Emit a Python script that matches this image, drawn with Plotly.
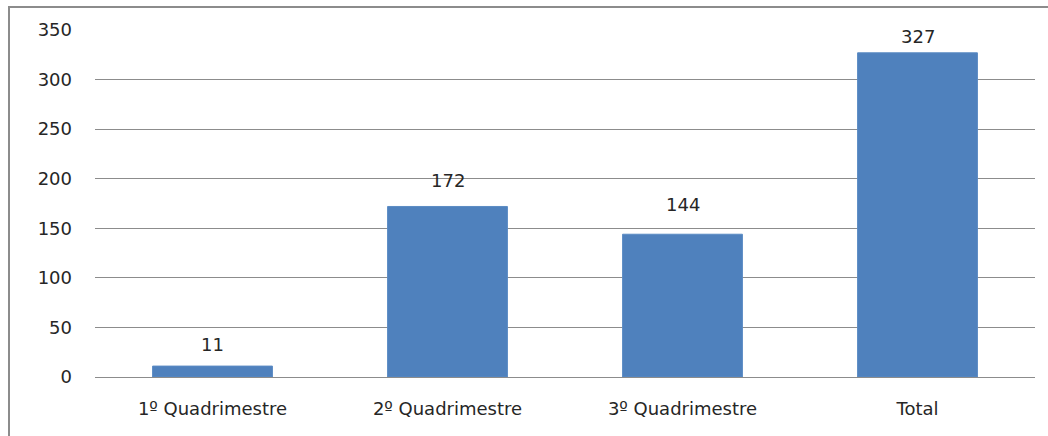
import plotly.graph_objects as go

categories = ["1º Quadrimestre", "2º Quadrimestre", "3º Quadrimestre", "Total"]
values = [11, 172, 144, 327]
y_ticks = [0, 50, 100, 150, 200, 250, 300, 350]

W, H = 1048, 436
ml, mr, mt, mb = 95, 13, 30, 59
pw = W - ml - mr
ph = H - mt - mb

FONT = "DejaVu Sans, sans-serif"
FS = 18
label_shifts = [22, 26, 30, 16]  # pixel offsets of value labels above bars

fig = go.Figure()
fig.add_trace(go.Bar(
    x=categories, y=values,
    marker=dict(color="#4F81BD", line=dict(color="#5B8BC4", width=1)),
    width=0.51,
))

for c, v, s in zip(categories, values, label_shifts):
    fig.add_annotation(x=c, y=v, text=str(v), showarrow=False,
                       yshift=s, font=dict(family=FONT, size=FS, color="#262626"))

# outer chart border
bx0 = (9 - ml) / pw
by1 = 1 + (mt - 7) / ph
fig.add_shape(type="rect", xref="paper", yref="paper",
              x0=bx0, x1=1 + (mr + 5) / pw, y0=-(mb + 5) / ph, y1=by1,
              line=dict(color="#8C8C8C", width=2), fillcolor="rgba(0,0,0,0)")

fig.update_layout(
    width=W, height=H,
    margin=dict(l=ml, r=mr, t=mt, b=mb),
    paper_bgcolor="white", plot_bgcolor="white",
    font=dict(family=FONT, size=FS, color="#262626"),
    showlegend=False,
    bargap=0.49,
    xaxis=dict(showgrid=False, showline=True, linecolor="#8C8C8C", linewidth=1,
               ticks="", ticklabelstandoff=15, tickfont=dict(size=FS)),
    yaxis=dict(range=[0, 350], tickvals=y_ticks, showgrid=True,
               gridcolor="#8C8C8C", gridwidth=1, zeroline=False,
               showline=False, ticks="", ticklabelstandoff=22,
               tickfont=dict(size=FS)),
)

fig.write_html("out.html")
